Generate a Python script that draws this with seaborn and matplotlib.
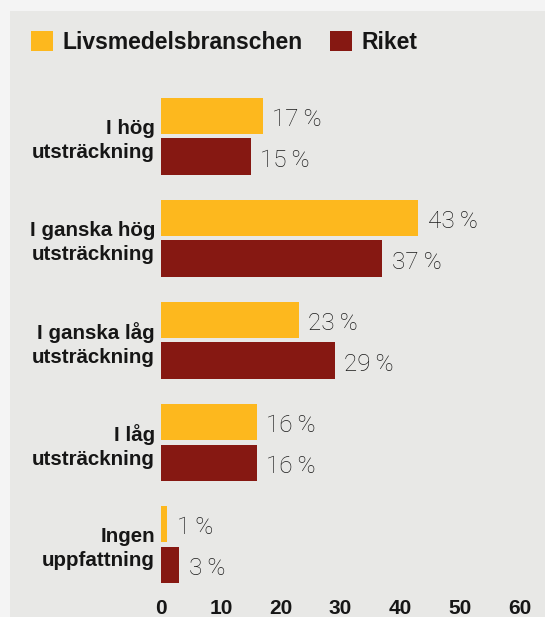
import matplotlib
matplotlib.use("Agg")
import matplotlib.pyplot as plt
from matplotlib import font_manager
from matplotlib.patches import Patch, Rectangle
import pandas as pd
import seaborn as sns

# --- data -------------------------------------------------------------
categories = [
    "I hög\nutsträckning",
    "I ganska hög\nutsträckning",
    "I ganska låg\nutsträckning",
    "I låg\nutsträckning",
    "Ingen\nuppfattning",
]
series_names = ["Livsmedelsbranschen", "Riket"]
livsmedel = [17, 43, 23, 16, 1]
riket = [15, 37, 29, 16, 3]
x_ticks = [0, 10, 20, 30, 40, 50, 60]

# --- style ------------------------------------------------------------
YELLOW = "#FDB81E"
RED = "#861812"
PANEL = "#E8E8E6"
OUTER = "#F4F4F4"
TEXT = "#161616"

sns.set_theme(style="white")

available = {f.name for f in font_manager.fontManager.ttflist}


def pick(*names):
    for n in names:
        if n in available:
            return n
    return "DejaVu Sans"


BOLD = pick("Liberation Sans", "Arial", "DejaVu Sans")
NARROW = pick("Liberation Sans Narrow", "Liberation Sans", "DejaVu Sans")
LEGEND_SIZE = 20 if NARROW == "Liberation Sans Narrow" else 16.5
LIGHT = pick("Roboto", "Lato", "Open Sans", "DejaVu Sans")
plt.rcParams["font.family"] = [BOLD, "DejaVu Sans"]

W, H = 545, 617
fig = plt.figure(figsize=(W / 100, H / 100), dpi=100, facecolor=OUTER)
fig.patches.append(
    Rectangle((10 / W, 0), 1, 1 - 11 / H, transform=fig.transFigure,
              facecolor=PANEL, edgecolor="none", zorder=-10)
)

ax = fig.add_axes([161 / W, 1 - 595.5 / H, (520 - 161) / W, (595.5 - 85.4) / H])
ax.set_facecolor("none")

df = pd.DataFrame({
    "kategori": categories * 2,
    "andel": livsmedel + riket,
    "serie": [series_names[0]] * len(categories) + [series_names[1]] * len(categories),
})

sns.barplot(
    data=df, y="kategori", x="andel", hue="serie", orient="h",
    order=categories, hue_order=series_names,
    palette=[YELLOW, RED], width=0.8, gap=0.1, saturation=1,
    linewidth=0, edgecolor="none",
    legend=False, ax=ax,
)

# value labels next to each bar
for cont in ax.containers:
    labels = ax.bar_label(cont, fmt="{:.0f}\u2009%", padding=7,
                          fontsize=17.5, color="#1A1A1A",
                          family=[LIGHT, "DejaVu Sans"], fontweight="light")
    for t in labels:
        t.xyann = (7, -2.5)

ax.set_xlim(0, 60)
ax.set_ylim(len(categories) - 0.5, -0.5)
ax.set_xticks(x_ticks)
ax.set_xticklabels([str(v) for v in x_ticks], fontsize=15, fontweight="bold",
                   color=TEXT, family=[BOLD, "DejaVu Sans"])
ax.set_yticks(range(len(categories)))
ax.set_yticklabels(categories, fontsize=14.8, fontweight="bold", color=TEXT,
                   family=[BOLD, "DejaVu Sans"], linespacing=1.3)
ax.tick_params(axis="x", length=0, pad=2.6)
ax.tick_params(axis="y", length=0, pad=4.3)
ax.set_xlabel("")
ax.set_ylabel("")
for s in ax.spines.values():
    s.set_visible(False)
ax.grid(False)

em_px = LEGEND_SIZE * 100 / 72
handles = [Patch(facecolor=YELLOW, edgecolor="none"),
           Patch(facecolor=RED, edgecolor="none")]
fig.legend(
    handles, series_names, loc="upper left",
    bbox_to_anchor=(31 / W, 1 - 31 / H), bbox_transform=fig.transFigure,
    ncol=2, frameon=False, borderpad=0, borderaxespad=0,
    handlelength=22 / em_px, handleheight=22 / em_px,
    handletextpad=9.6 / em_px, columnspacing=27.5 / em_px,
    prop=font_manager.FontProperties(family=[NARROW, "DejaVu Sans"],
                                     weight="bold", size=LEGEND_SIZE),
    labelcolor=TEXT,
)

fig.savefig("out.png", dpi=100, facecolor=OUTER)
